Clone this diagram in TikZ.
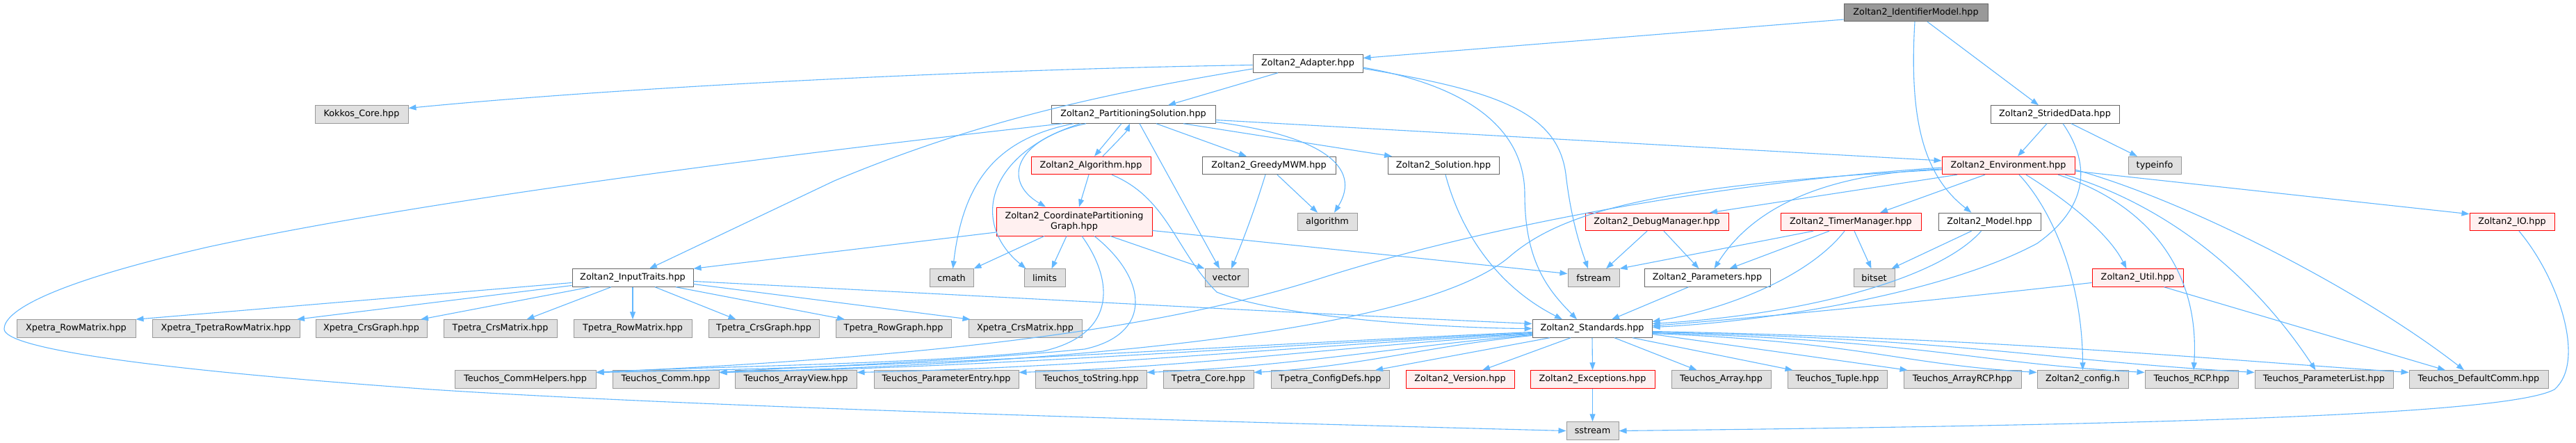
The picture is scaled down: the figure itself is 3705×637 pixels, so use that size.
\documentclass[tikz,border=0pt]{standalone}
\usepackage{fontspec}
\setmainfont{DejaVu Sans}
\usetikzlibrary{arrows.meta,calc}
\definecolor{ecol}{HTML}{63B8FF}
\definecolor{gfill}{HTML}{E0E0E0}
\definecolor{gdraw}{HTML}{999999}
\definecolor{wdraw}{HTML}{666666}
\definecolor{rfill}{HTML}{FFF0F0}
\definecolor{rdraw}{HTML}{FF0000}
\definecolor{mfill}{HTML}{999999}
\tikzset{
  base/.style={draw, line width=0.5pt, inner sep=0pt, minimum height=12.75pt, font=\fontsize{6.4}{7.6}\selectfont},
  gbox/.style={base, fill=gfill, draw=gdraw},
  wbox/.style={base, fill=white, draw=wdraw},
  rbox/.style={base, fill=rfill, draw=rdraw},
  mbox/.style={base, fill=mfill, draw=wdraw},
  e/.style={draw=ecol, line width=0.55pt, -{Triangle[length=5.5pt,width=4pt]}},
}
\begin{document}
\begin{tikzpicture}[x=0.5pt,y=-0.5pt]
\useasboundingbox (0,0) rectangle (3705,637);
\fill[white] (0,0) rectangle (3705,637);

% row 1-2
\node[mbox, minimum width=103.5pt] (id) at (2755.5,18) {Zoltan2\_IdentifierModel.hpp};
\node[wbox, minimum width=79pt] (adapter) at (1881,91.5) {Zoltan2\_Adapter.hpp};
\node[gbox, minimum width=67pt] (kokkos) at (520,164.5) {Kokkos\_Core.hpp};
\node[wbox, minimum width=118pt] (ps) at (1630,164.5) {Zoltan2\_PartitioningSolution.hpp};
\node[wbox, minimum width=92.5pt] (strided) at (2955.5,164.5) {Zoltan2\_StridedData.hpp};
% row 238
\node[rbox, minimum width=86pt] (algo) at (1569,238) {Zoltan2\_Algorithm.hpp};
\node[wbox, minimum width=96pt] (greedy) at (1825,238) {Zoltan2\_GreedyMWM.hpp};
\node[wbox, minimum width=80pt] (solution) at (2076,238) {Zoltan2\_Solution.hpp};
\node[rbox, minimum width=95.5pt] (env) at (2888.5,238) {Zoltan2\_Environment.hpp};
\node[gbox, minimum width=38pt] (typeinfo) at (3099,238) {typeinfo};
% row 319
\node[rbox, minimum width=112pt, minimum height=20.5pt, align=center] (cpg) at (1545,318.5) {Zoltan2\_CoordinatePartitioning\\Graph.hpp};
\node[gbox, minimum width=43pt] (algorithm) at (1909,319) {algorithm};
\node[rbox, minimum width=103pt] (debug) at (2383,319) {Zoltan2\_DebugManager.hpp};
\node[rbox, minimum width=101pt] (timer) at (2662,319) {Zoltan2\_TimerManager.hpp};
\node[wbox, minimum width=73.5pt] (model) at (2861.5,319) {Zoltan2\_Model.hpp};
\node[rbox, minimum width=61pt] (io) at (3613,319) {Zoltan2\_IO.hpp};
% row 399.5
\node[wbox, minimum width=87pt] (input) at (910,399.5) {Zoltan2\_InputTraits.hpp};
\node[gbox, minimum width=31.5pt] (cmath) at (1368.5,399.5) {cmath};
\node[gbox, minimum width=29.5pt] (limits) at (1502.5,399.5) {limits};
\node[gbox, minimum width=31pt] (vector) at (1764,399.5) {vector};
\node[gbox, minimum width=37pt] (fstream) at (2292,399.5) {fstream};
\node[wbox, minimum width=90.5pt] (params) at (2455.5,399.5) {Zoltan2\_Parameters.hpp};
\node[gbox, minimum width=29.5pt] (bitset) at (2695.5,399.5) {bitset};
\node[rbox, minimum width=65.5pt] (util) at (3074.5,399.5) {Zoltan2\_Util.hpp};
% row 472.5
\node[gbox, minimum width=85.5pt] (xrow) at (109.5,472.5) {Xpetra\_RowMatrix.hpp};
\node[gbox, minimum width=106pt] (xtrow) at (325,472.5) {Xpetra\_TpetraRowMatrix.hpp};
\node[gbox, minimum width=80pt] (xcrsg) at (534,472.5) {Xpetra\_CrsGraph.hpp};
\node[gbox, minimum width=81.5pt] (tcrsm) at (719.5,472.5) {Tpetra\_CrsMatrix.hpp};
\node[gbox, minimum width=85pt] (trowm) at (910,472.5) {Tpetra\_RowMatrix.hpp};
\node[gbox, minimum width=79.5pt] (tcrsg) at (1098.5,472.5) {Tpetra\_CrsGraph.hpp};
\node[gbox, minimum width=83pt] (trowg) at (1285,472.5) {Tpetra\_RowGraph.hpp};
\node[gbox, minimum width=81.5pt] (xcrsm) at (1474.5,472.5) {Xpetra\_CrsMatrix.hpp};
\node[wbox, minimum width=86pt] (std) at (2290,472.5) {Zoltan2\_Standards.hpp};
% row 545.5
\node[gbox, minimum width=101.5pt] (commh) at (755.5,545.5) {Teuchos\_CommHelpers.hpp};
\node[gbox, minimum width=76.5pt] (comm) at (957.5,545.5) {Teuchos\_Comm.hpp};
\node[gbox, minimum width=87.5pt] (arrayview) at (1144.5,545.5) {Teuchos\_ArrayView.hpp};
\node[gbox, minimum width=104pt] (paramentry) at (1361,545.5) {Teuchos\_ParameterEntry.hpp};
\node[gbox, minimum width=80pt] (tostring) at (1569,545.5) {Teuchos\_toString.hpp};
\node[gbox, minimum width=65pt] (tcore) at (1738,545.5) {Tpetra\_Core.hpp};
\node[gbox, minimum width=85pt] (tconfig) at (1913,545.5) {Tpetra\_ConfigDefs.hpp};
\node[rbox, minimum width=78pt] (version) at (2100,545.5) {Zoltan2\_Version.hpp};
\node[rbox, minimum width=89.5pt] (except) at (2290.5,545.5) {Zoltan2\_Exceptions.hpp};
\node[gbox, minimum width=71.5pt] (tarray) at (2475.5,545.5) {Teuchos\_Array.hpp};
\node[gbox, minimum width=71.5pt] (tuple) at (2642.5,545.5) {Teuchos\_Tuple.hpp};
\node[gbox, minimum width=84.5pt] (arcp) at (2822.5,545.5) {Teuchos\_ArrayRCP.hpp};
\node[gbox, minimum width=65.5pt] (config) at (2995.5,545.5) {Zoltan2\_config.h};
\node[gbox, minimum width=67pt] (rcp) at (3152,545.5) {Teuchos\_RCP.hpp};
\node[gbox, minimum width=99.5pt] (plist) at (3342.5,545.5) {Teuchos\_ParameterList.hpp};
\node[gbox, minimum width=100pt] (dcomm) at (3565,545.5) {Teuchos\_DefaultComm.hpp};
\node[gbox, minimum width=37.5pt] (sstream) at (2290.5,619.5) {sstream};

% IdentifierModel
\draw[e] ($(id.west)+(0,10)$) -- ($(adapter.east)+(0,-8)$);
\draw[e] ($(id.south)+(-1.5,0)$) .. controls (2745,180) and (2770,255) .. ($(model.north)+(-26,0)$);
\draw[e] ($(id.south)+(16.5,0)$) -- ($(strided.north)+(-23.5,0)$);
% Adapter
\draw[e] ($(adapter.west)+(0,2)$) .. controls (1400,100) and (900,125) .. ($(kokkos.east)+(0,-9)$);
\draw[e] ($(adapter.west)+(0,7.5)$) .. controls (1550,140) and (1380,185) .. (1200,260) -- ($(input.north)+(24,0)$);
\draw[e] ($(adapter.south)+(-43,0)$) -- ($(ps.north)+(50,0)$);
\draw[e] ($(adapter.east)+(0,5.5)$) .. controls (2120,125) and (2193,190) .. (2193,280) .. controls (2193,380) and (2230,420) .. ($(std.north)+(-22,0)$);
\draw[e] ($(adapter.east)+(0,7)$) .. controls (2150,130) and (2240,160) .. (2252,250) .. controls (2260,320) and (2275,360) .. ($(fstream.north)+(-8,0)$);
% PartitioningSolution
\draw[e] ($(ps.south)+(-17,0)$) -- ($(algo.north)+(5,0)$);
\draw[e] ($(algo.north)+(17,0)$) .. controls (1605,205) and (1620,190) .. ($(ps.south)+(-5,0)$);
\draw[e] ($(ps.south)+(-68,0)$) .. controls (1460,200) and (1440,260) .. ($(cpg.north)+(-41,0)$);
\draw[e] ($(ps.south)+(-86,0)$) .. controls (1430,200) and (1385,265) .. ($(cmath.north)+(2,0)$);
\draw[e] ($(ps.south)+(-76,0)$) .. controls (1420,220) and (1395,320) .. ($(limits.north)+(-27,0)$);
\draw[e] ($(ps.south)+(9,0)$) -- ($(vector.north)+(-10,0)$);
\draw[e] ($(ps.south)+(33,0)$) -- ($(greedy.north)+(-32,0)$);
\draw[e] ($(ps.south)+(72,0)$) -- ($(solution.north)+(-74,0)$);
\draw[e] ($(ps.east)+(0,8)$) -- ($(env.west)+(0,-7)$);
\draw[e] ($(ps.east)+(0,11)$) .. controls (1900,195) and (1960,240) .. ($(algorithm.north)+(10,0)$);
\draw[e] ($(ps.south)+(-102,0)$) .. controls (1100,225) and (600,290) .. (300,355) .. controls (60,410) and (6,450) .. (6,473) .. controls (6,500) and (200,530) .. (620,560) .. controls (1000,585) and (1700,605) .. (sstream.west);
% CoordinatePartitioningGraph
\draw[e] ($(cpg.west)+(0,15.5)$) -- (input.north east);
\draw[e] ($(cpg.south)+(-43,0)$) -- (cmath.north east);
\draw[e] ($(cpg.south)+(-11,0)$) -- ($(limits.north)+(10,0)$);
\draw[e] ($(cpg.south)+(52,0)$) -- (vector.north west);
\draw[e] ($(cpg.east)+(0,13)$) -- ($(fstream.west)+(0,-6)$);
\draw[e] ($(cpg.south)+(11,0)$) .. controls (1600,400) and (1610,480) .. (1500,505) .. controls (1300,525) and (1000,527) .. ($(commh.east)+(0,-10)$);
\draw[e] ($(cpg.south)+(29,0)$) .. controls (1650,400) and (1660,480) .. (1560,502) .. controls (1350,522) and (1150,527) .. ($(comm.east)+(0,-10)$);
% Algorithm
\draw[e] ($(algo.south)+(-3,0)$) -- ($(cpg.north)+(7,0)$);
\draw[e] ($(algo.south)+(30,0)$) .. controls (1680,285) and (1690,360) .. (1750,420) .. controls (1850,460) and (2100,472) .. (std.west);
% InputTraits
\draw[e] ($(input.east)+(0,5)$) .. controls (1400,425) and (1900,452) .. ($(std.west)+(0,-7)$);
\draw[e] ($(input.west)+(0,7)$) -- (xrow.north east);
\draw[e] ($(input.west)+(0,11)$) -- ($(xtrow.north)+(102,0)$);
\draw[e] ($(input.south)+(-61,0)$) -- ($(xcrsg.north)+(71,0)$);
\draw[e] ($(input.south)+(-31,0)$) -- ($(tcrsm.north)+(38,0)$);
\draw[e] (input.south) -- (trowm.north);
\draw[e] ($(input.south)+(32,0)$) -- ($(tcrsg.north)+(-40,0)$);
\draw[e] ($(input.south)+(62,0)$) -- ($(trowg.north)+(-70,0)$);
\draw[e] ($(input.east)+(0,9)$) -- ($(xcrsm.north west)+(3,0)$);
% GreedyMWM, Solution
\draw[e] ($(greedy.south)+(12,0)$) -- ($(algorithm.north)+(-14,0)$);
\draw[e] ($(greedy.south)+(-5,0)$) .. controls (1805,300) and (1790,340) .. ($(vector.north)+(7,0)$);
\draw[e] ($(solution.south)+(3,0)$) .. controls (2100,330) and (2150,410) .. ($(std.north)+(-43,0)$);
% DebugManager, TimerManager, Model
\draw[e] ($(debug.south)+(-14,0)$) -- ($(fstream.north)+(18,0)$);
\draw[e] ($(debug.south)+(10,0)$) -- ($(params.north)+(-12,0)$);
\draw[e] ($(timer.south)+(-54,0)$) -- (fstream.north east);
\draw[e] ($(timer.south)+(-31,0)$) -- ($(params.north)+(32,0)$);
\draw[e] ($(timer.south)+(5,0)$) -- ($(bitset.north)+(-4,0)$);
\draw[e] ($(timer.south)+(-9,0)$) .. controls (2600,400) and (2480,445) .. ($(std.east)+(0,-10)$);
\draw[e] ($(model.south)+(-26,0)$) -- ($(bitset.north)+(25,0)$);
\draw[e] ($(model.south)+(-12,0)$) .. controls (2790,400) and (2600,452) .. ($(std.east)+(0,-7)$);
% Environment
\draw[e] ($(env.south)+(-73.5,0)$) -- ($(debug.north)+(76,0)$);
\draw[e] ($(env.south)+(-33.5,0)$) -- ($(timer.north)+(42,0)$);
\draw[e] ($(env.west)+(0,5)$) .. controls (2620,250) and (2520,300) .. ($(params.north)+(10,0)$);
\draw[e] ($(env.south)+(15.5,0)$) .. controls (2950,300) and (2995,400) .. (config.north);
\draw[e] ($(env.south)+(25.5,0)$) .. controls (2960,280) and (3030,330) .. ($(util.north)+(-16,0)$);
\draw[e] ($(env.east)+(0,8)$) -- ($(io.north west)+(0,2)$);
\draw[e] ($(env.south)+(71.5,0)$) .. controls (3080,290) and (3165,380) .. ($(rcp.north)+(3,0)$);
\draw[e] ($(env.south)+(81.5,0)$) .. controls (3100,290) and (3230,380) .. ($(plist.north)+(-12,0)$);
\draw[e] ($(env.east)+(0,6)$) .. controls (3150,290) and (3400,420) .. ($(dcomm.north)+(-21,0)$);
\draw[e] ($(env.west)+(0,3)$) .. controls (2500,260) and (2150,320) .. (1900,400) .. controls (1650,480) and (1300,515) .. ($(commh.east)+(0,-10)$);
\draw[e] ($(env.west)+(0,6)$) .. controls (2400,265) and (2250,300) .. (2170,370) .. controls (2050,470) and (1600,520) .. ($(comm.east)+(0,-10)$);
% Util, IO, StridedData, Parameters
\draw[e] ($(util.south)+(38,0)$) -- ($(dcomm.north)+(-48,0)$);
\draw[e] ($(util.west)+(0,7)$) .. controls (2800,430) and (2550,455) .. ($(std.east)+(0,-4)$);
\draw[e] ($(io.south)+(10,0)$) .. controls (3680,400) and (3720,520) .. (3674,560) .. controls (3600,600) and (3000,612) .. (sstream.east);
\draw[e] ($(strided.south)+(-11.5,0)$) -- ($(env.north)+(13.5,0)$);
\draw[e] ($(strided.south)+(23.5,0)$) -- ($(typeinfo.north)+(-25,0)$);
\draw[e] ($(strided.south)+(11.5,0)$) .. controls (3010,240) and (3000,300) .. (2930,350) .. controls (2800,420) and (2550,462) .. ($(std.east)+(0,-2)$);
\draw[e] ($(params.south)+(-27,0)$) -- ($(std.north)+(28,0)$);
% Exceptions
\draw[e] (except.south) -- (sstream.north);
% Standards
\draw[e] ($(std.west)+(0,5)$) .. controls +(-500,22) and +(500,-8) .. ($(commh.east)+(0,-10)$);
\draw[e] ($(std.west)+(0,6)$) .. controls +(-450,22) and +(400,-8) .. ($(comm.east)+(0,-10)$);
\draw[e] ($(std.west)+(0,7)$) .. controls +(-400,22) and +(350,-8) .. ($(arrayview.east)+(0,-10)$);
\draw[e] ($(std.west)+(0,8)$) .. controls +(-300,20) and +(250,-8) .. ($(paramentry.east)+(0,-10)$);
\draw[e] ($(std.west)+(0,9)$) .. controls +(-200,18) and +(200,-8) .. ($(tostring.east)+(0,-10)$);
\draw[e] ($(std.west)+(0,10)$) .. controls +(-150,15) and +(150,-8) .. ($(tcore.east)+(0,-10)$);
\draw[e] ($(std.south)+(-61,0)$) -- ($(tconfig.north)+(65,0)$);
\draw[e] ($(std.south)+(-31,0)$) -- ($(version.north)+(32,0)$);
\draw[e] (std.south) -- (except.north);
\draw[e] ($(std.south)+(32,0)$) -- ($(tarray.north)+(-35,0)$);
\draw[e] ($(std.south)+(58,0)$) -- ($(tuple.north)+(-64,0)$);
\draw[e] ($(std.east)+(0,8)$) -- ($(arcp.north west)+(6,0)$);
\draw[e] ($(std.east)+(0,7)$) .. controls +(300,12) and +(-200,-12) .. ($(config.west)+(0,-10)$);
\draw[e] ($(std.east)+(0,6)$) .. controls +(400,12) and +(-250,-14) .. ($(rcp.west)+(0,-10)$);
\draw[e] ($(std.east)+(0,5)$) .. controls +(450,10) and +(-300,-17) .. ($(plist.west)+(0,-10)$);
\draw[e] ($(std.east)+(0,4)$) .. controls +(500,10) and +(-300,-20) .. ($(dcomm.west)+(0,-10)$);
\end{tikzpicture}
\end{document}
